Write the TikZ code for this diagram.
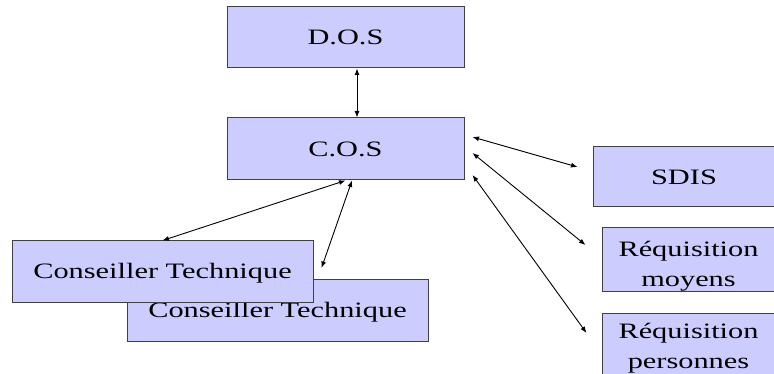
\documentclass[tikz,border=0pt]{standalone}
\usepackage{fontspec}
\setmainfont{Liberation Serif}
\usepackage{graphicx}
\usetikzlibrary{arrows.meta}
\definecolor{boxfill}{HTML}{CCCCFF}
\definecolor{boxline}{HTML}{404040}
\newcommand{\wtxt}[1]{\scalebox{1.38}[1]{#1}}
\newcommand{\wtwo}[3]{\raisebox{#1}[0pt][0pt]{\wtxt{\begin{tabular}{@{}c@{}}#2\\#3\end{tabular}}}}
\tikzset{
	orgbox/.style={draw=boxline,fill=boxfill,line width=1pt,rectangle,inner sep=0pt,
		font=\fontsize{22}{30}\selectfont},
	onebox/.style={orgbox,text height=14.5,text depth=0},
	link/.style={{Latex[length=6.5,width=5]}-{Latex[length=6.5,width=5]},line width=0.9pt}
}
\begin{document}
\begin{tikzpicture}[x=1pt,y=-1pt]
	\useasboundingbox (0,0) rectangle (774,374);
	\clip (0,0) rectangle (774,374);
	% commandement
	\node[onebox,minimum width=237,minimum height=61] (dos) at (345.5,37.5) {\wtxt{D.O.S}};
	\node[onebox,minimum width=237,minimum height=62] (cos) at (345.5,149) {\wtxt{C.O.S}};
	% conseillers (le second est dessous)
	\node[onebox,minimum width=301,minimum height=62] (ct2) at (277.5,310.5) {\wtxt{Conseiller Technique}};
	\node[onebox,minimum width=301,minimum height=61] (ct1) at (162.5,271.5) {\wtxt{Conseiller Technique}};
	% moyens a droite
	\node[onebox,minimum width=182,minimum height=60] (sdis) at (684,177) {\wtxt{SDIS}};
	\node[orgbox,minimum width=173,minimum height=63] (moyens) at (688.5,259.5) {\wtwo{-11.5pt}{R\'equisition}{moyens}};
	\node[orgbox,minimum width=173,minimum height=63] (pers) at (688.5,344.5) {\wtwo{-8pt}{R\'equisition}{personnes}};
	% liaisons
	\draw[link] ([xshift=11.5]dos.south) -- ([xshift=11.5]cos.north);
	\draw[link] (cos.south) -- (ct1.north);
	\draw[link] ([xshift=6.5]cos.south) -- ([shift={(-107,-11)}]ct2.north east);
	\draw[link] ([shift={(8,-12)}]cos.east) -- ([shift={(-15,-10)}]sdis.west);
	\draw[link] ([shift={(8,4)}]cos.east) -- ([shift={(-16,-14.5)}]moyens.west);
	\draw[link] ([shift={(8,26)}]cos.east) -- ([shift={(-15,-11.5)}]pers.west);
\end{tikzpicture}
\end{document}
